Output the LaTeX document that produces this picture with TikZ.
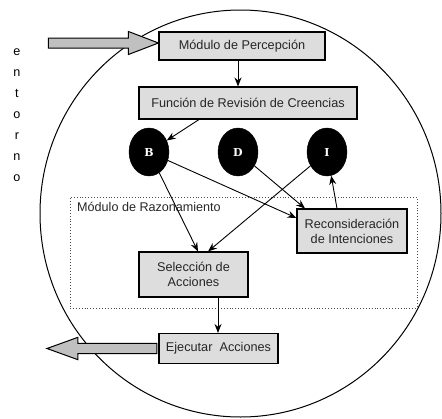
\documentclass[tikz,border=0pt]{standalone}
\usepackage{fontspec}
\setsansfont{Liberation Sans}
\newfontfamily\bdifont{DejaVu Serif}
\usetikzlibrary{shapes.geometric,arrows.meta,calc}
\definecolor{boxgray}{HTML}{DDDDDD}
\definecolor{arrgray}{HTML}{C0C0C0}
\begin{document}
\begin{tikzpicture}[x=1pt,y=-1pt,
  box/.style={draw=black,line width=1.1pt,fill=boxgray,inner sep=0pt,align=center,
    font=\sffamily\fontsize{12.7}{15}\selectfont,text=black!85},
  bel/.style={ellipse,fill=black,draw=black,minimum width=40pt,minimum height=48pt,inner sep=0pt,
    text=white,font=\bdifont\bfseries\fontsize{11}{13}\selectfont},
  conn/.style={-{Stealth[length=9pt,width=7pt]},line width=0.9pt},
  bigarrow/.style={draw=black,line width=1pt,fill=arrgray,line join=miter},
  letter/.style={font=\sffamily\fontsize{12.6}{15}\selectfont,inner sep=0pt,anchor=base}]
\useasboundingbox (0,0) rectangle (442,418);
% environment boundary
\node[ellipse,draw=black,line width=1pt,minimum width=401pt,minimum height=407pt,inner sep=0pt] (env) at (240.5,213.5) {};
% reasoning module
\node[draw=black!70,dotted,line width=0.9pt,minimum width=347pt,minimum height=111pt,inner sep=0pt] (razon) at (243.5,252.5) {};
\node[anchor=north west,inner sep=0pt,font=\sffamily\fontsize{12.6}{15}\selectfont,text=black!85] (razlbl) at (77,202) {Módulo de Razonamiento};
% boxes
\node[box,minimum width=166pt,minimum height=28pt] (perc) at (242,46) {Módulo de Percepción};
\node[box,minimum width=218pt,minimum height=32pt] (func) at (248,103) {Función de Revisión de Creencias};
\node[box,minimum width=110pt,minimum height=44pt] (recon) at (352,231) {Reconsideración\\de Intenciones};
\node[box,minimum width=109pt,minimum height=45pt] (sel) at (193.5,274.5) {Selección de\\Acciones};
\node[box,minimum width=119pt,minimum height=30pt] (ejec) at (218.5,348.5) {Ejecutar\ \ Acciones};
% B D I
\node[bel] (B) at (149,152) {B};
\node[bel] (D) at (238,152) {D};
\node[bel] (I) at (327,152) {I};
% connectors
\draw[conn] ([xshift=-4pt]perc.south) -- ([xshift=-4pt]perc.south |- func.north);
\draw[conn] ([xshift=-49pt]func.south) -- (B);
\draw[conn] (B) -- ([xshift=4.5pt]sel.north);
\draw[conn] (B) -- ([yshift=13pt]recon.west);
\draw[conn] (D) -- ([xshift=-47pt]recon.north);
\draw[conn] (I) -- ([xshift=14.5pt]sel.north);
\draw[conn] ([xshift=-15pt]recon.north) -- (I);
\draw[conn] ([xshift=24.5pt]sel.south) -- ([xshift=24.5pt]sel.south |- ejec.north);
% big input arrow
\coordinate (intip) at (perc.west);
\draw[bigarrow] ([yshift=3pt]intip) -- ++(-30,-11.5) -- ++(0,6.5) -- ++(-80,0) -- ++(0,10) -- ++(80,0) -- ++(0,6.5) -- cycle;
% big output arrow
\coordinate (outbase) at (ejec.west);
\draw[bigarrow] (outbase) ++(-1.5,-5.2) -- ++(-79,0) -- ++(0,-6) -- ++(-31,11.2) -- ++(31,11.2) -- ++(0,-6) -- ++(79,0) -- cycle;
% entorno
\foreach \ch [count=\i] in {e,n,t,o,r,n,o}{
  \node[letter] (ent\i) at (17,{55.5+(\i-1)*21}) {\ch};
}
\end{tikzpicture}
\end{document}
